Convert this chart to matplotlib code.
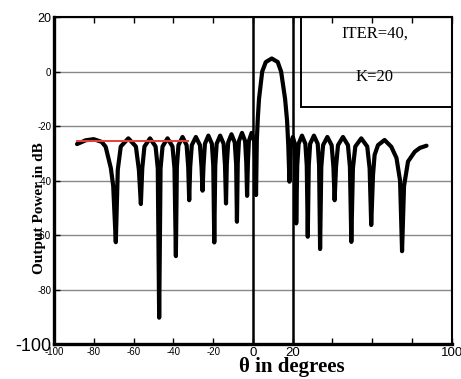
import matplotlib
matplotlib.use("Agg")
import matplotlib.pyplot as plt
from matplotlib.patches import Rectangle

# beam pattern (theta in degrees, output power in dB)
theta = [
    -88.4, -84.0, -80.0, -76.0, -74.0, -71.4, -70.2, -68.9,
    -67.9, -66.4, -62.6, -58.8, -57.3, -56.3,
    -55.6, -54.5, -51.7, -48.9, -47.8, -47.1,
    -46.4, -45.4, -42.9, -40.4, -39.4, -38.7,
    -38.2, -37.4, -35.35, -33.3, -32.5, -32.0,
    -31.5, -30.7, -28.65, -26.6, -25.8, -25.3,
    -24.8, -24.1, -22.35, -20.6, -19.9, -19.4,
    -18.9, -18.2, -16.45, -14.7, -14.0, -13.5,
    -13.1, -12.4, -10.75, -9.1, -8.4, -8.0,
    -7.6, -7.0, -5.45, -3.9, -3.3, -2.9,
    -2.5, -2.0, -0.65, 0.7, 1.2, 1.6,
    2.0, 2.5, 3.1, 4.7, 6.5, 9.5, 12.5, 14.2, 16.2, 17.2, 17.8, 18.4,
    18.7, 19.1, 20.1, 21.1, 21.5, 21.8,
    22.3, 23.0, 24.7, 26.4, 27.1, 27.6,
    28.1, 28.8, 30.7, 32.6, 33.3, 33.8,
    34.4, 35.3, 37.45, 39.6, 40.5, 41.1,
    41.8, 42.8, 45.3, 47.8, 48.8, 49.5,
    50.3, 51.5, 54.5, 57.5, 58.7, 59.5,
    60.4, 61.2, 62.9, 66.2, 69.6, 72.2, 74.0, 75.0,
    76.0, 78.0, 81.4, 84.0, 87.3,
]
power = [
    -26.6, -25.2, -24.8, -25.8, -27.6, -35.4, -42.0, -62.6,
    -36.0, -27.5, -24.5, -27.5, -36.0, -48.6,
    -35.5, -27.5, -24.5, -27.5, -35.5, -90.3,
    -35.5, -27.5, -24.5, -27.5, -35.5, -67.7,
    -35.0, -27.0, -24.0, -27.0, -35.0, -47.2,
    -35.0, -27.0, -24.0, -27.0, -35.0, -43.7,
    -34.5, -26.5, -23.5, -26.5, -34.5, -62.7,
    -34.5, -26.5, -23.5, -26.5, -34.5, -48.4,
    -34.0, -26.0, -23.0, -26.0, -34.0, -55.1,
    -33.5, -25.5, -22.5, -25.5, -33.5, -45.6,
    -33.5, -25.5, -22.5, -25.5, -33.5, -45.3,
    -25.0, -17.0, -10.0, 0.0, 3.5, 4.8, 3.5, 0.0, -10.0, -18.0, -27.0, -40.4,
    -33.0, -26.5, -24.0, -26.5, -33.0, -55.7,
    -34.5, -26.5, -23.5, -26.5, -34.5, -60.6,
    -34.5, -26.5, -23.5, -26.5, -34.5, -65.1,
    -35.0, -27.0, -24.0, -27.0, -35.0, -47.2,
    -35.0, -27.0, -24.0, -27.0, -35.0, -62.5,
    -35.5, -27.5, -24.5, -27.5, -35.5, -56.3,
    -38.0, -30.6, -27.0, -25.1, -27.6, -31.7, -40.0, -65.9,
    -42.0, -33.0, -29.4, -28.0, -27.2,
]

ref_theta = [-88.4, -32.6]
ref_power = [-25.5, -25.5]
marker_angles = [0, 20]

xticks = [-100, -80, -60, -40, -20, 0, 20, 40, 60, 80, 100]
xlabels = ['-100', '-80', '-60', '-40', '-20', '0', '20', '', '', '', '100']
yticks = [20, 0, -20, -40, -60, -80, -100]
ylabels = ['20', '0', '-20', '-40', '-60', '-80', '-100']

fig = plt.figure(figsize=(4.61, 3.79), dpi=100)
ax = fig.add_axes([0.117, 0.092, 0.863, 0.863])

ax.plot(theta, power, color='black', lw=3.0, solid_joinstyle='round',
        solid_capstyle='round', zorder=3)
ax.plot(ref_theta, ref_power, color='#e8403a', lw=1.4, zorder=4)
for a in marker_angles:
    ax.axvline(a, color='black', lw=1.8, zorder=2)

ax.set_xlim(-100, 100)
ax.set_ylim(-100, 20)
ax.yaxis.grid(True, color='#888888', lw=1.0)
ax.set_axisbelow(True)

ax.set_xticks(xticks)
ax.set_xticklabels(xlabels, family='Liberation Sans')
ax.set_yticks(yticks)
ax.set_yticklabels(ylabels, family='Liberation Sans')
ax.tick_params(direction='in', length=4, width=1, top=True, right=False, pad=2)
for lab in ax.get_xticklabels():
    lab.set_fontsize(9.5 if lab.get_text() in ('0', '20', '100') else 7)
for lab in ax.get_yticklabels():
    t = lab.get_text()
    lab.set_fontsize(13 if t == '-100' else (9 if t == '20' else 7))

ax.spines['left'].set_linewidth(2.4)
ax.spines['bottom'].set_linewidth(2.4)
ax.spines['top'].set_linewidth(1.5)
ax.spines['right'].set_linewidth(1.5)

ax.add_patch(Rectangle((24.2, -13), 75.8, 33, fill=False, ec='black', lw=1.4,
                       zorder=5))
ax.text(61.5, 13.8, 'ITER=40,', ha='center', va='center', fontsize=12,
        family='Liberation Serif', zorder=6)
ax.text(61, -2, 'K=20', ha='center', va='center', fontsize=12,
        family='Liberation Serif', zorder=6)

fig.text(0.085, 0.452, 'Output Power in dB', rotation=90, ha='center',
         va='center', fontsize=11, fontweight='bold', family='Liberation Serif')
fig.text(0.632, 0.032, 'θ in degrees', ha='center', va='center', fontsize=15,
         fontweight='bold', family='Liberation Serif')

fig.savefig('out.png', dpi=100)
